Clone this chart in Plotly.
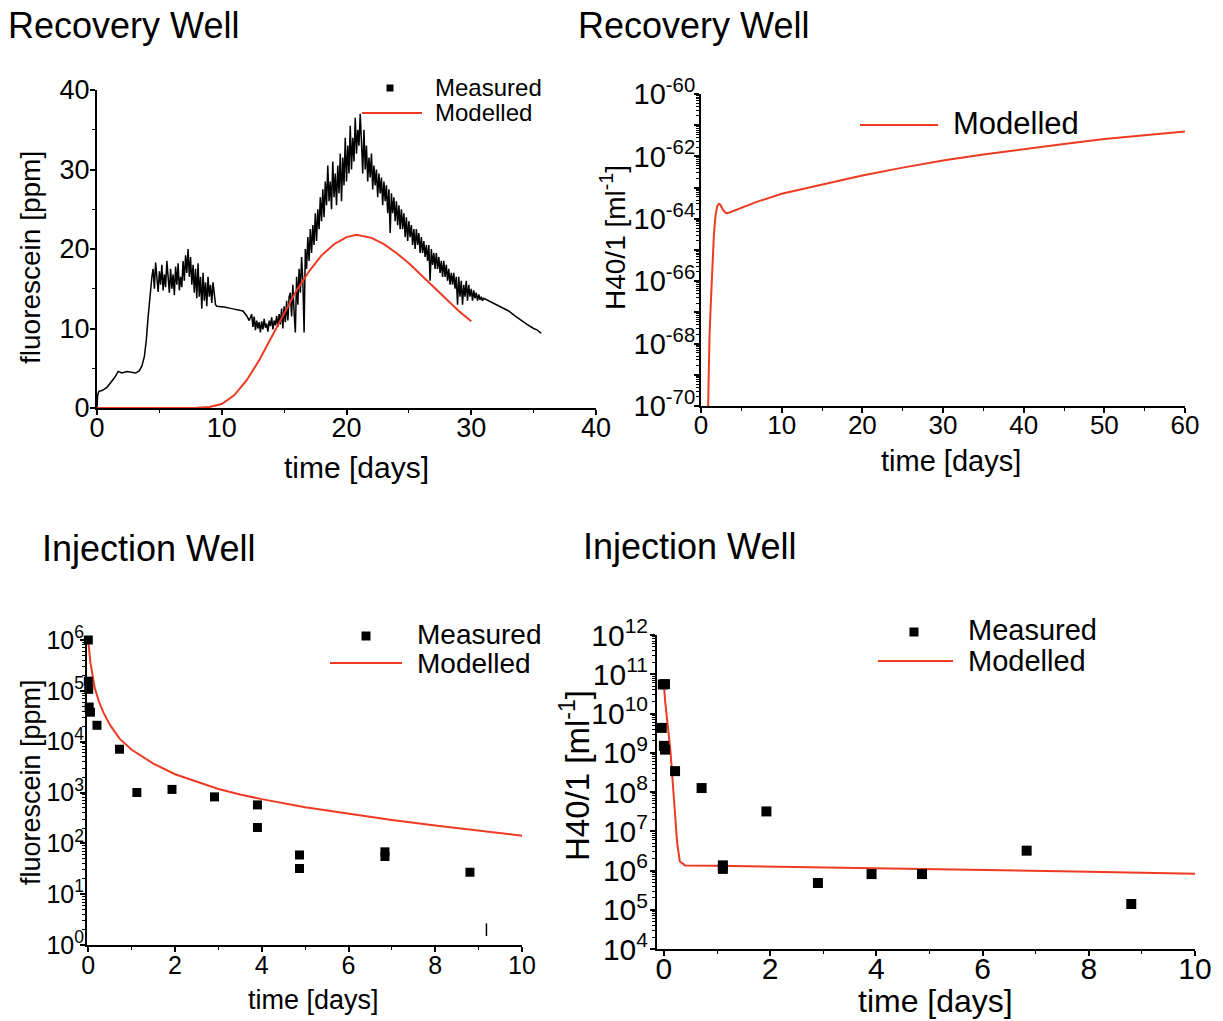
import plotly.graph_objects as go
import numpy as np

W, H = 1223, 1021
RED = "#ee3a22"
FONT = "Liberation Sans, Arial, Helvetica, sans-serif"

# ---------------- data ----------------
# Recovery well, fluorescein [ppm]: measured logger trace (time [days], ppm)
rec_meas_t = [
    0, 0.05, 0.15, 0.4, 0.8, 1.1, 1.4, 1.7, 2.0, 2.4, 2.8, 3.1, 3.4, 3.6, 3.8, 3.95, 4.1, 4.25, 4.4,
    4.5, 4.6, 4.7, 4.8, 4.9, 5.0, 5.1, 5.2, 5.3, 5.4, 5.5, 5.6, 5.7, 5.8, 5.9, 6.0, 6.1, 6.2, 6.3, 6.4,
    6.5, 6.6, 6.7, 6.8, 6.9, 7.0, 7.1, 7.2, 7.3, 7.4, 7.5, 7.6, 7.7, 7.8, 7.9, 8.0, 8.1, 8.2, 8.3, 8.4,
    8.5, 8.6, 8.7, 8.8, 8.9, 9.0, 9.1, 9.2, 9.3, 9.4, 9.5,
    9.6, 10.2, 10.8, 11.4, 11.7, 12.0, 12.2,
    12.4, 12.5, 12.6, 12.7, 12.8, 12.9, 13.0, 13.1, 13.2, 13.3, 13.4, 13.5, 13.6, 13.7, 13.8, 13.9,
    14.0, 14.1, 14.2, 14.3, 14.4, 14.5, 14.6, 14.7, 14.8, 14.9, 15.0, 15.1, 15.2, 15.3, 15.4,
    15.5, 15.6, 15.7, 15.8, 15.9, 16.0, 16.1, 16.2, 16.3, 16.4, 16.5, 16.6, 16.7, 16.8, 16.9,
    17.0, 17.1, 17.2, 17.3, 17.4, 17.5, 17.6, 17.7, 17.8, 17.9, 18.0, 18.1, 18.2, 18.3, 18.4, 18.5,
    18.6, 18.7, 18.8, 18.9, 19.0, 19.1, 19.2, 19.3, 19.4, 19.5, 19.6, 19.7, 19.8, 19.9, 20.0, 20.1,
    20.2, 20.3, 20.4, 20.5, 20.6, 20.7, 20.8, 20.9, 21.0, 21.1,
    21.2, 21.3, 21.4, 21.5, 21.6, 21.7, 21.8, 21.9, 22.0, 22.1, 22.2, 22.3, 22.4, 22.5, 22.6, 22.7,
    22.8, 22.9, 23.0, 23.1, 23.2, 23.3, 23.4, 23.5, 23.6, 23.7, 23.8, 23.9, 24.0, 24.1, 24.2, 24.3,
    24.4, 24.5, 24.6, 24.7, 24.8, 24.9, 25.0, 25.1, 25.2, 25.3, 25.4, 25.5, 25.6, 25.7, 25.8, 25.9,
    26.0, 26.1, 26.2, 26.3, 26.4, 26.5, 26.6, 26.7, 26.8, 26.9, 27.0, 27.1, 27.2, 27.3, 27.4, 27.5,
    27.6, 27.7, 27.8, 27.9, 28.0, 28.1, 28.2, 28.3, 28.4, 28.5, 28.6, 28.7, 28.8, 28.9, 29.0, 29.1,
    29.2, 29.3, 29.4, 29.5, 29.6, 29.7, 29.8, 29.9, 30.0, 30.1, 30.2, 30.3, 30.4, 30.5, 30.6, 30.7,
    30.8, 30.9, 31.0,
    31.5, 32.0, 32.5, 33.0, 33.5, 34.0, 34.5, 35.0, 35.3, 35.6]
rec_meas_ppm = [
    0, 1.6, 2.1, 2.2, 2.6, 3.2, 3.8, 4.6, 4.4, 4.6, 4.5, 4.4, 4.7, 5.3, 6.5, 8.5, 11.5, 14.5, 16.5,
    17.5, 15.0, 18.3, 16.0, 14.6, 17.2, 15.5, 18.0, 14.8, 16.8, 15.2, 18.5, 16.0, 14.5, 17.5, 15.0,
    16.8, 14.2, 17.8, 15.5, 18.2, 14.8, 16.5, 15.2, 18.5, 16.0, 19.2, 17.0, 20.0, 16.5, 19.0, 15.5,
    18.0, 14.5, 17.5, 13.8, 18.2, 14.0, 16.5, 12.5, 17.0, 13.5, 15.8, 12.8, 16.5, 14.0, 15.5, 13.2,
    15.8, 14.0, 13.0,
    12.8, 12.7, 12.5, 12.3, 12.2, 11.6, 11.0,
    11.8, 10.2, 11.5, 9.8, 11.0, 10.0, 10.8, 9.5, 10.9, 9.9, 11.2, 10.1, 10.6, 9.6, 11.0, 10.3,
    11.4, 9.9, 11.0, 10.4, 11.6, 10.2, 11.8, 10.5, 12.5, 10.0, 12.8, 10.8, 13.5, 11.0, 14.0,
    14.5, 11.5, 15.5, 12.0, 9.5, 16.5, 13.0, 17.5, 14.5, 19.0, 16.0, 9.5, 20.0, 17.5, 21.5,
    18.5, 22.5, 19.5, 23.0, 20.5, 24.5, 21.0, 25.0, 22.5, 26.5, 23.5, 27.5, 24.0, 28.5, 25.5, 30.5,
    26.0, 28.5, 25.0, 31.0, 26.5, 29.5, 25.5, 30.5, 27.0, 32.0, 26.0, 31.5, 28.0, 34.0, 28.5, 33.0,
    29.5, 35.5, 30.0, 34.0, 31.0, 36.5, 32.0, 35.0, 33.0, 37.0,
    33.5, 29.5, 35.0, 30.0, 33.0, 28.5, 31.5, 29.0, 32.0, 27.5, 30.5, 28.0, 30.0, 26.5, 29.5, 27.0,
    29.0, 25.5, 28.5, 26.0, 28.0, 24.5, 27.5, 22.0, 27.0, 24.5, 26.5, 23.5, 26.0, 23.0, 25.5, 22.5,
    25.0, 22.5, 24.5, 21.5, 24.0, 21.0, 23.5, 21.5, 23.0, 20.5, 22.5, 20.0, 22.5, 20.5, 22.0, 19.5,
    21.5, 19.5, 21.0, 19.0, 20.5, 18.5, 20.5, 16.0, 20.0, 18.0, 19.5, 17.5, 19.5, 17.5, 19.0, 17.0,
    18.5, 16.5, 18.5, 16.5, 18.0, 16.0, 17.5, 15.5, 17.0, 15.5, 17.0, 15.0, 16.5, 13.0, 16.5, 14.0,
    16.0, 13.0, 15.5, 14.0, 16.0, 13.5, 15.5, 14.0, 15.0, 13.5, 14.8, 13.8, 14.5, 13.5, 14.3, 13.6,
    14.0, 13.5, 13.8,
    13.4, 13.0, 12.6, 12.2, 11.6, 11.0, 10.5, 10.0, 9.8, 9.4]
rec_model_t = [0, 5, 8, 9, 10, 11, 12, 13, 14, 15, 16, 17, 18, 19, 20, 20.8, 22, 23, 24, 25, 26, 27, 28, 29, 30]
rec_model_ppm = [0, 0, 0.02, 0.12, 0.5, 1.6, 3.5, 6.0, 9.0, 12.0, 14.8, 17.2, 19.2, 20.6, 21.5, 21.8, 21.4,
                 20.6, 19.5, 18.2, 16.7, 15.1, 13.6, 12.2, 10.9]

# Recovery well, H40/1 [ml^-1] modelled (log10 of value)
rec_h40_t = [0.85, 0.95, 1.05, 1.2, 1.4, 1.6, 1.8, 2.0, 2.2, 2.4, 2.7, 3.0, 3.3, 4, 5, 7, 10, 15, 20, 25, 30,
             35, 40, 45, 50, 55, 60]
rec_h40_log10 = [-70.5, -69.0, -67.8, -66.8, -65.5, -64.5, -63.9, -63.6, -63.52, -63.55, -63.7, -63.8, -63.82,
                 -63.75, -63.65, -63.45, -63.2, -62.9, -62.61, -62.36, -62.13, -61.94, -61.76, -61.6, -61.44,
                 -61.32, -61.2]

# Injection well, fluorescein [ppm]
inj_fl_meas_t = [0.0, 0.0, 0.01, 0.02, 0.05, 0.2, 0.72, 1.12, 1.93, 2.91, 3.9, 3.9, 4.87, 4.87, 6.84, 6.84, 8.8]
inj_fl_meas_ppm = [1.0e6, 1.55e5, 1.07e5, 4.8e4, 3.8e4, 2.1e4, 7.1e3, 1.0e3, 1.15e3, 820, 570, 205, 59, 32,
                   68, 55, 27]
inj_fl_mark_t = [9.18]
inj_fl_mark_ppm = [2.0]
inj_fl_model_t = [0.005, 0.02, 0.05, 0.1, 0.15, 0.25, 0.35, 0.5, 0.72, 1.0, 1.5, 2.0, 2.5, 3.0, 3.5, 4.0,
                  5.0, 6.0, 7.0, 8.0, 9.0, 10.0]
inj_fl_model_log10 = [5.93, 5.75, 5.55, 5.3, 5.05, 4.78, 4.57, 4.33, 4.06, 3.84, 3.57, 3.36, 3.21, 3.07, 2.96,
                      2.87, 2.71, 2.58, 2.46, 2.35, 2.25, 2.15]

# Injection well, H40/1 [ml^-1]
inj_h40_meas_t = [-0.02, 0.02, -0.04, 0.0, 0.02, 0.21, 0.71, 1.93, 1.11, 1.11, 2.9, 3.91, 4.86, 6.83, 8.8]
inj_h40_meas = [5.5e10, 5.6e10, 4.3e9, 1.5e9, 1.2e9, 3.4e8, 1.26e8, 3.2e7, 1.35e6, 1.1e6, 4.8e5, 8.1e5,
                8.1e5, 3.2e6, 1.4e5]
inj_h40_model_t = [0.0, 0.024, 0.12, 0.2, 0.25, 0.3, 0.4, 1, 2, 4, 6, 8, 10]
inj_h40_model_log10 = [10.73, 10.3, 9.1, 7.65, 6.7, 6.23, 6.13, 6.12, 6.10, 6.06, 6.02, 5.97, 5.92]

# ---------------- figure ----------------
fig = go.Figure()


def dom_x(a, b):
    return [a / W, b / W]


def dom_y(top, bottom):
    return [1 - bottom / H, 1 - top / H]


def sup_labels(exps, show=None):
    out = []
    for e in exps:
        if show is None or show(e):
            out.append("10<sup>%d</sup>" % e)
        else:
            out.append("")
    return out


def minor_log(e0, e1):
    vals = []
    for e in range(e0, e1):
        for k in range(2, 10):
            vals.append(k * 10.0 ** e)
    return vals


base = dict(showline=True, linecolor="black", linewidth=2, ticks="outside", ticklen=5, tickwidth=1.5,
            tickcolor="black", showgrid=False, zeroline=False, mirror=False, automargin=False)
lin_minor = dict(ticks="outside", ticklen=3, tickwidth=1.2, tick0=0, tickcolor="black")
log_minor = dict(ticks="outside", ticklen=3, tickwidth=1, tickmode="array", tickcolor="black")

# Panel 1 (top-left)
fig.add_trace(go.Scatter(x=rec_meas_t, y=rec_meas_ppm, mode="lines", line=dict(color="black", width=1.5),
                         xaxis="x", yaxis="y", showlegend=False, name="Measured"))
fig.add_trace(go.Scatter(x=rec_model_t, y=rec_model_ppm, mode="lines", line=dict(color=RED, width=2),
                         xaxis="x", yaxis="y", showlegend=False, name="Modelled"))

# Panel 2 (top-right)
fig.add_trace(go.Scatter(x=rec_h40_t, y=np.power(10.0, rec_h40_log10), mode="lines",
                         line=dict(color=RED, width=2), xaxis="x2", yaxis="y2", showlegend=False,
                         name="Modelled"))

# Panel 3 (bottom-left)
fig.add_trace(go.Scatter(x=inj_fl_model_t, y=np.power(10.0, inj_fl_model_log10), mode="lines",
                         line=dict(color=RED, width=2), xaxis="x3", yaxis="y3", showlegend=False,
                         name="Modelled"))
fig.add_trace(go.Scatter(x=inj_fl_meas_t, y=inj_fl_meas_ppm, mode="markers",
                         marker=dict(symbol="square", size=9, color="black"), cliponaxis=False,
                         xaxis="x3", yaxis="y3", showlegend=False, name="Measured"))
fig.add_trace(go.Scatter(x=inj_fl_mark_t, y=inj_fl_mark_ppm, mode="markers",
                         marker=dict(symbol="line-ns-open", size=9, color="black",
                                     line=dict(color="black", width=1.5)),
                         xaxis="x3", yaxis="y3", showlegend=False, name="Measured"))

# Panel 4 (bottom-right)
fig.add_trace(go.Scatter(x=inj_h40_model_t, y=np.power(10.0, inj_h40_model_log10), mode="lines",
                         line=dict(color=RED, width=2), xaxis="x4", yaxis="y4", showlegend=False,
                         name="Modelled"))
fig.add_trace(go.Scatter(x=inj_h40_meas_t, y=inj_h40_meas, mode="markers",
                         marker=dict(symbol="square", size=10, color="black"), cliponaxis=False,
                         xaxis="x4", yaxis="y4", showlegend=False, name="Measured"))

layout = dict(
    width=W, height=H, margin=dict(l=0, r=0, t=0, b=0, autoexpand=False),
    paper_bgcolor="white", plot_bgcolor="white",
    font=dict(family=FONT, color="black"),
    showlegend=False,
)

# axes panel 1
layout["xaxis"] = dict(base, domain=dom_x(97, 596), range=[0, 40], anchor="y",
                       tickvals=[0, 10, 20, 30, 40], tickfont=dict(size=27), ticklabelstandoff=-10,
                       minor=dict(lin_minor, dtick=5))
layout["yaxis"] = dict(base, domain=dom_y(90, 408), range=[0, 40], anchor="x",
                       tickvals=[0, 10, 20, 30, 40], tickfont=dict(size=27), ticklabelstandoff=-5,
                       minor=dict(lin_minor, dtick=5))

# axes panel 2
e2 = list(range(-70, -59))
layout["xaxis2"] = dict(base, domain=dom_x(701, 1185), range=[0, 60], anchor="y2",
                        tickvals=[0, 10, 20, 30, 40, 50, 60], tickfont=dict(size=26), ticklabelstandoff=-10,
                        minor=dict(lin_minor, dtick=5))
layout["yaxis2"] = dict(base, type="log", domain=dom_y(94, 406), range=[-70, -60], anchor="x2",
                        tickvals=[10.0 ** e for e in e2],
                        ticktext=sup_labels(e2, lambda e: e % 2 == 0), tickfont=dict(size=29),
                        ticklabelstandoff=-7,
                        minor=dict(log_minor, tickvals=minor_log(-70, -60)))

# axes panel 3
e3 = list(range(0, 7))
layout["xaxis3"] = dict(base, domain=dom_x(87, 522), range=[-0.03, 10], anchor="y3",
                        tickvals=[0, 2, 4, 6, 8, 10], tickfont=dict(size=25), ticklabelstandoff=-8,
                        minor=dict(lin_minor, dtick=1))
layout["yaxis3"] = dict(base, type="log", domain=dom_y(640, 945), range=[0, 6], anchor="x3",
                        tickvals=[10.0 ** e for e in e3], ticktext=sup_labels(e3), tickfont=dict(size=25),
                        ticklabelstandoff=-9,
                        minor=dict(log_minor, tickvals=minor_log(0, 6)))

# axes panel 4
e4 = list(range(4, 13))
layout["xaxis4"] = dict(base, domain=dom_x(657, 1195), range=[-0.13, 10], anchor="y4",
                        tickvals=[0, 2, 4, 6, 8, 10], tickfont=dict(size=30), ticklabelstandoff=-13,
                        minor=dict(lin_minor, dtick=1))
layout["yaxis4"] = dict(base, type="log", domain=dom_y(635, 949), range=[4, 12], anchor="x4",
                        tickvals=[10.0 ** e for e in e4], ticktext=sup_labels(e4), tickfont=dict(size=30),
                        ticklabelstandoff=-4,
                        minor=dict(log_minor, tickvals=minor_log(4, 12)))

fig.update_layout(**layout)

annotations = []
shapes = []


def px_text(x, y, text, size, anchor="left", angle=0):
    annotations.append(dict(x=x / W, y=1 - y / H, xref="paper", yref="paper", text=text, showarrow=False,
                            xanchor=anchor, yanchor="middle", textangle=angle,
                            font=dict(size=size, family=FONT, color="black")))


def px_line(x0, x1, y):
    shapes.append(dict(type="line", xref="paper", yref="paper", x0=x0 / W, x1=x1 / W, y0=1 - y / H,
                       y1=1 - y / H, line=dict(color=RED, width=2)))


def px_square(xc, yc, s):
    shapes.append(dict(type="rect", xref="paper", yref="paper", x0=(xc - s / 2) / W, x1=(xc + s / 2) / W,
                       y0=1 - (yc + s / 2) / H, y1=1 - (yc - s / 2) / H, fillcolor="black",
                       line=dict(width=0)))


# panel titles
px_text(6, 25, "Recovery Well", 36)
px_text(576, 25, "Recovery Well", 36)
px_text(40, 548, "Injection Well", 36)
px_text(581, 546, "Injection Well", 36)

# axis titles
px_text(356, 467, "time [days]", 30, anchor="center")
px_text(30, 258, "fluorescein [ppm]", 28, anchor="center", angle=-90)
px_text(951, 461, "time [days]", 29, anchor="center")
px_text(613, 238, "H40/1 [ml<sup>-1</sup>]", 28, anchor="center", angle=-90)
px_text(313, 1000, "time [days]", 27, anchor="center")
px_text(31, 782, "fluorescein [ppm]", 27, anchor="center", angle=-90)
px_text(935, 1001, "time [days]", 32, anchor="center")
px_text(575, 776, "H40/1 [ml<sup>-1</sup>]", 33, anchor="center", angle=-90)

# legends (drawn manually to match the long legend lines)
px_square(390, 88, 7)
px_text(433, 87, "Measured", 24)
px_line(362, 422, 113)
px_text(433, 113, "Modelled", 24)

px_line(860, 938, 125)
px_text(951, 124, "Modelled", 31)

px_square(366, 636, 9)
px_text(415, 634, "Measured", 28)
px_line(330, 402, 663)
px_text(415, 663, "Modelled", 28)

px_square(914, 632, 9)
px_text(966, 630, "Measured", 29)
px_line(878, 953, 661)
px_text(966, 661, "Modelled", 29)

fig.update_layout(annotations=annotations, shapes=shapes)

fig.write_html("out.html")
